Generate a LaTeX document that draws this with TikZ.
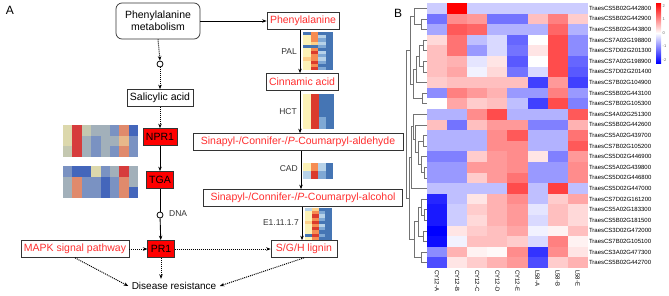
\documentclass[tikz,border=0pt]{standalone}
\usepackage{fontspec}
\setmainfont{Liberation Sans}
\usetikzlibrary{arrows.meta, positioning}
\definecolor{txtred}{HTML}{FF2E2E}
% enzyme heatmap colours
\definecolor{hb}{HTML}{4575B4}
\definecolor{hm}{HTML}{7FA8D4}
\definecolor{hl}{HTML}{B7D2E8}
\definecolor{hy}{HTML}{FCF2B6}
\definecolor{hp}{HTML}{FDD08A}
\definecolor{ho}{HTML}{F68C52}
\definecolor{hr}{HTML}{DA3B2D}
% NPR1 / TGA heatmap colours
\definecolor{nb}{HTML}{4466BB}
\definecolor{nm}{HTML}{7A92C2}
\definecolor{ng}{HTML}{A2B0BA}
\definecolor{ne}{HTML}{DCD8AC}
\definecolor{nq}{HTML}{C4C8B0}
\definecolor{no}{HTML}{E08A6C}
\definecolor{np}{HTML}{E8B88A}
\definecolor{nr}{HTML}{D63C3C}

\newcommand{\heatblock}[5]{%
  \begin{scope}[shift={(#1,#2)}, x=#3pt, y=-#4pt]
    \foreach \row [count=\r] in {#5}
      \foreach \h [count=\c] in \row
        \fill[\h] (\c-1,\r-1) rectangle (\c,\r);
  \end{scope}}

\begin{document}
\begin{tikzpicture}[x=1pt, y=-1pt, >={Stealth[length=4.5pt,width=3.5pt]},
    box/.style={draw=black!80, line width=0.7pt, inner xsep=3pt, inner ysep=0pt,
      minimum height=17pt, font=\fontsize{10.5}{12}\selectfont},
    redbox/.style={box, text=txtred},
    gene/.style={box, fill=red},
    enz/.style={font=\fontsize{8.5}{10}\selectfont, text=black!80, inner sep=1pt},
    solidarr/.style={->, line width=0.9pt},
    dotarr/.style={->, densely dotted, line width=1pt},
    hole/.style={circle, draw, line width=0.8pt, fill=white, inner sep=0pt, minimum size=6pt},
    dendro/.style={draw=black!55, line width=0.5pt},
    gname/.style={font=\fontsize{6}{7}\selectfont, anchor=west, inner sep=1pt}]
  \useasboundingbox (0,0) rectangle (669,295);

  % panel A
  \node[font=\fontsize{12}{14}\selectfont] (pa) at (10,10) {A};
  \node[box, rounded corners=6pt, minimum width=84pt, minimum height=36pt, align=center]
    (phemet) at (158,21) {Phenylalanine\\metabolism};
  \node[hole] (c1) at (160,64) {};
  \node[box] (sal) at (160,98) {Salicylic acid};
  \node[gene] (npr) at (160,137) {NPR1};
  \node[gene] (tga) at (160,180) {TGA};
  \node[hole] (c2) at (160,215) {};
  \node[enz, anchor=west] (dna) at (168,214) {DNA};
  \node[gene] (pr) at (161,249) {PR1};
  \node[redbox, minimum width=107pt] (mapk) at (75,249) {MAPK signal pathway};
  \node[font=\fontsize{10}{12}\selectfont] (dis) at (174,286) {Disease resistance};

  \node[redbox, minimum width=71pt] (phe) at (303,21) {Phenylalanine};
  \node[redbox, minimum width=72pt] (cin) at (302,82) {Cinnamic acid};
  \node[redbox, minimum width=210pt] (ald) at (298,142)
    {Sinapyl-/Connifer-/\textit{P}-Coumarpyl-aldehyde};
  \node[redbox, minimum width=199pt] (alc) at (303,198)
    {Sinapyl-/Connifer-/\textit{P}-Coumarpyl-alcohol};
  \node[redbox, minimum width=66pt] (lig) at (304,249) {S/G/H lignin};

  \node[enz, anchor=east] (pal) at (298,52) {PAL};
  \node[enz, anchor=east] (hct) at (298,112) {HCT};
  \node[enz, anchor=east] (cad) at (299,169) {CAD};
  \node[enz, anchor=east] (pox) at (300,223) {E1.11.1.7};

  \draw[solidarr] (phemet) -- (phe);
  \draw[dotarr] (phemet.south) -- (c1.north);
  \draw[dotarr] (c1) -- (sal);
  \draw[dotarr] (sal) -- (npr);
  \draw[solidarr] (npr) -- (tga);
  \draw[line width=0.9pt] (tga) -- (c2);
  \draw[solidarr] (c2) -- (pr);
  \draw[dotarr] (mapk) -- (pr);
  \draw[dotarr] (pr) -- (lig);
  \draw[dotarr] (pr.south) -- (pr.south |- dis.north);
  \draw[dotarr] (mapk.south) -- (dis.west);
  \draw[dotarr] (lig.south) -- (dis.east);
  \draw[solidarr] ([xshift=-3pt]phe.south) -- ([xshift=-2pt]cin.north);
  \draw[solidarr] ([xshift=-2pt]cin.south) -- ([xshift=2pt]ald.north);
  \draw[solidarr] ([xshift=3pt]ald.south) -- ([xshift=-2pt]alc.north);
  \draw[solidarr] ([xshift=-1pt]alc.south) -- ([xshift=-2pt]lig.north);

  % small heatmaps
  \heatblock{63}{125}{9.4}{10.7}{{ne,nr,nq,ng,ng,nm,no,nb},{ne,nr,ng,nm,ng,ng,np,nm},
    {nq,nr,ng,nm,ng,nm,no,nm}}
  \heatblock{63}{166}{9.4}{10.7}{{nm,nb,nb,ne,nm,ng,nr,ng},{ng,no,nm,nm,nb,nm,no,ng},
    {ng,no,nm,nm,nb,nm,no,nb}}
  \heatblock{303}{32}{7.5}{3.17}{{hb,ho,hb,hb},{hy,ho,hl,hb},{hy,ho,hm,hb},{hy,hp,hl,hb},
    {hb,hb,hm,hb},{hy,ho,hb,hb},{hy,hr,hl,hb},{hy,ho,hm,hb},{hp,ho,hl,hb},{hy,hr,hm,hb},
    {hy,ho,hb,hb},{hy,hr,hm,hb}}
  \heatblock{303}{94}{7.75}{11.67}{{hy,hr,hb,hb},{hy,hr,hb,hb},{hy,hr,hm,hb}}
  \heatblock{303}{163}{7.5}{8}{{hy,ho,hl,hb},{hl,hr,hm,hb}}
  \heatblock{305}{208}{6.75}{3.2}{{hl,hp,hb,hb},{hy,ho,hm,hb},{hy,hr,hl,hb},{hy,ho,hm,hb},
    {hp,hr,hb,hb},{hy,ho,hl,hb},{hy,hr,hm,hb},{hy,ho,hb,hb},{hb,hr,hm,hb},{hy,ho,hb,hb}}

  % panel B
  \node[font=\fontsize{12}{14}\selectfont] (pb) at (398,13) {B};
  \begin{scope}[shift={(427,3)}, x=20.1pt, y=-10.6pt]
    \foreach \row [count=\r] in {
      {-0.4,2.3,-0.4,-0.4,-0.4,-0.4,-0.4,-0.4},
      {-1.1,0.9,0.8,-1.1,-1.1,0.5,1.0,0.4},
      {-0.7,1.3,1.2,-0.6,-0.6,-0.6,1.2,-0.6},
      {0.3,1.1,-0.5,-0.3,-1.2,0.0,1.4,-0.9},
      {0.5,1.1,-0.8,-0.3,-1.1,0.2,1.4,-0.9},
      {0.5,0.6,-0.2,0.2,-1.3,0.0,1.4,-1.2},
      {0.5,0.7,-0.1,0.3,-1.1,-0.3,1.4,-1.3},
      {0.4,0.5,0.5,0.5,0.5,-1.5,0.8,-1.5},
      {-0.9,1.0,0.8,0.6,-0.8,-0.8,1.0,-0.8},
      {0.0,0.7,0.4,0.5,-0.5,-1.5,1.4,-1.0},
      {-0.6,-0.6,0.9,1.4,-0.6,-0.6,-0.6,1.3},
      {0.5,-1.1,0.5,0.8,0.8,-1.0,-1.0,0.6},
      {-0.6,-0.6,-0.6,0.9,1.3,-0.6,-0.6,1.1},
      {-0.6,-0.6,-0.6,0.9,0.9,-0.6,-0.6,1.3},
      {-1.0,-1.0,0.4,0.8,0.9,0.2,-1.0,0.8},
      {-0.8,-0.8,0.8,0.8,0.9,-0.8,-0.8,0.9},
      {-0.8,-0.8,0.4,0.8,1.1,-0.8,-0.8,0.9},
      {-0.5,-0.5,-0.5,-0.5,1.4,-0.5,1.5,-0.5},
      {-1.7,-0.5,0.2,0.6,0.9,-0.5,0.4,0.7},
      {-1.8,-0.4,0.4,0.6,0.8,-0.2,0.5,0.3},
      {-1.8,-0.4,0.3,0.6,0.8,-0.3,0.5,0.3},
      {-2.0,0.2,0.4,0.5,0.7,-0.1,0.1,0.5},
      {-1.9,-0.1,0.5,0.5,0.4,-0.3,1.0,0.1},
      {-0.9,0.6,0.1,0.05,0.9,-1.6,0.9,0.2},
      {-1.4,0.2,0.4,0.6,0.8,-1.4,0.4,0.6}}
      \foreach \v [count=\c] in \row {
        \pgfmathsetmacro\pct{min(100,abs(\v)*50)}
        \ifdim\v pt>0pt \colorlet{hc}{red!\pct!white}\else\colorlet{hc}{blue!\pct!white}\fi
        \fill[hc] (\c-1,\r-1) rectangle (\c,\r);
      }
    \foreach \g [count=\r] in {TraesCS5B02G442800,TraesCS5B02G442900,TraesCS5B02G443800,
        TraesCS7A02G198800,TraesCS7D02G201300,TraesCS7A02G198900,TraesCS7D02G201400,
        TraesCS7B02G104900,TraesCS5B02G443100,TraesCS7B02G105300,TraesCS4A02G251300,
        TraesCS5B02G442600,TraesCS5A02G439700,TraesCS7B02G105200,TraesCS5D02G446900,
        TraesCS5A02G439800,TraesCS5D02G446800,TraesCS5D02G447000,TraesCS7D02G161200,
        TraesCS5A02G183300,TraesCS5B02G181500,TraesCS3D02G472000,TraesCS7B02G105100,
        TraesCS3A02G477300,TraesCS5B02G442700}
      \node[gname] (g\r) at (8,\r-0.5) {\g};
    \foreach \s [count=\c] in {CY12-A,CY12-B,CY12-C,CY12-D,CY12-E,L58-A,L58-B,L58-E}
      \node[gname, rotate=-90] (s\c) at (\c-0.5,25.1) {\s};
  \end{scope}

  % row dendrogram
  \begin{scope}[shift={(427,3)}, y=-10.6pt]
    \foreach \xm/\ya/\xa/\yb/\xb in {-6/1.5/0/2.5/0, -13/0.5/0/2.0/-6, -4/3.5/0/4.5/0,
        -4/5.5/0/6.5/0, -8/4.0/-4/6.0/-4, -11/5.0/-8/7.5/0, -5/8.5/0/9.5/0,
        -14/6.25/-11/9.0/-5, -17/1.25/-13/7.625/-14, -4/12.5/0/13.5/0, -3/15.5/0/16.5/0,
        -6/14.5/0/16.0/-3, -9/13.0/-4/15.25/-6, -12/11.5/0/14.125/-9,
        -14/10.5/0/12.8125/-12, -16/11.656/-14/17.5/0, -3/19.5/0/20.5/0,
        -6/18.5/0/20.0/-3, -4/21.5/0/22.5/0, -9/19.25/-6/22.0/-4, -6/23.5/0/24.5/0,
        -13/20.625/-9/24.0/-6, -18/14.578/-16/22.3125/-13, -21/4.4375/-17/18.445/-18}
      \draw[dendro] (\xa,\ya) -- (\xm,\ya) -- (\xm,\yb) -- (\xb,\yb);
  \end{scope}

  % colour key
  \shade[top color=red, bottom color=blue, middle color=white] (656,3) rectangle (661,63);
  \foreach \t/\yy in {2/6, 1/19.5, 0/33, -1/46.5, -2/60}
    \node[font=\fontsize{4}{5}\selectfont, text=black!60, anchor=west, inner sep=0.5pt]
      at (662,\yy) {\t};
\end{tikzpicture}
\end{document}
